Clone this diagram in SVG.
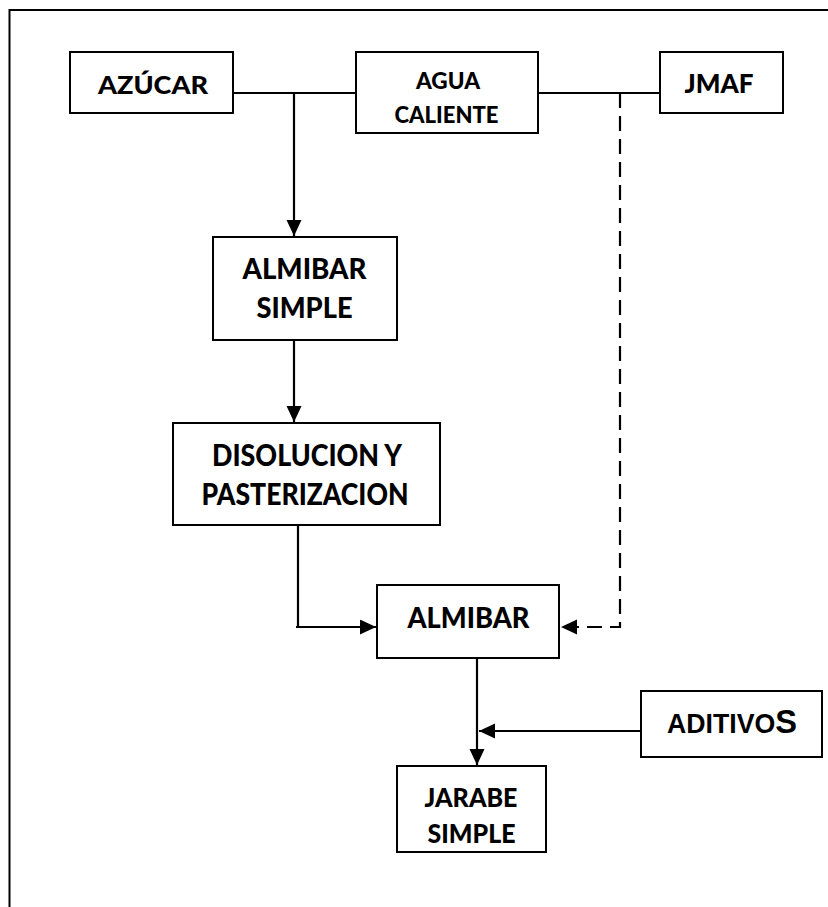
<svg xmlns="http://www.w3.org/2000/svg" width="828" height="907" viewBox="0 0 828 907">
  <style>
    .box { fill: #ffffff; stroke: #000000; stroke-width: 2; }
    .lbl { font-family: Lato, "Open Sans", "Liberation Sans", sans-serif; font-weight: 900; fill: #000000; text-anchor: middle; }
    .lbl-arial { font-family: "Liberation Sans", Arial, sans-serif; font-weight: 700; fill: #000000; }
    .wire { fill: none; stroke: #000000; stroke-width: 2.2; }
    .dash { stroke-dasharray: 15 8; }
  </style>
  <defs>
    <marker id="arrow" markerUnits="userSpaceOnUse" markerWidth="17" markerHeight="16" refX="16" refY="7.5" orient="auto">
      <path d="M0,0 L16,7.5 L0,15 z" fill="#000000"/>
    </marker>
  </defs>

  <rect width="828" height="907" fill="#ffffff"/>

  <!-- frame -->
  <path d="M9.5,907 V10 H828" fill="none" stroke="#000000" stroke-width="2"/>

  <!-- connectors -->
  <g id="connectors">
    <path class="wire" d="M233,93 H356"/>
    <path class="wire" d="M538,93 H660"/>
    <path class="wire" d="M294,93 V236" marker-end="url(#arrow)"/>
    <path class="wire" d="M294,340 V422" marker-end="url(#arrow)"/>
    <path class="wire" d="M298,525 V627 M296,627 H376" marker-end="url(#arrow)"/>
    <path class="wire dash" d="M620,93 V627 H561" marker-end="url(#arrow)"/>
    <path class="wire" d="M477,658 V765" marker-end="url(#arrow)"/>
    <path class="wire" d="M641,731 H479" marker-end="url(#arrow)"/>
  </g>

  <!-- nodes -->
  <g id="azucar">
    <rect class="box" x="70" y="52" width="163" height="61"/>
    <text class="lbl" x="153" y="93.5" font-size="25" textLength="110" lengthAdjust="spacingAndGlyphs">AZÚCAR</text>
  </g>

  <g id="agua-caliente">
    <rect class="box" x="356" y="52" width="182" height="81"/>
    <text class="lbl" x="448" y="88.5" font-size="22" textLength="64" lengthAdjust="spacingAndGlyphs">AGUA</text>
    <text class="lbl" x="446.5" y="122.5" font-size="22" textLength="104" lengthAdjust="spacingAndGlyphs">CALIENTE</text>
  </g>

  <g id="jmaf">
    <rect class="box" x="660" y="52" width="123" height="61"/>
    <text class="lbl" x="719" y="92.5" font-size="27" textLength="69" lengthAdjust="spacingAndGlyphs">JMAF</text>
  </g>

  <g id="almibar-simple">
    <rect class="box" x="213" y="237" width="184" height="103"/>
    <text class="lbl" x="304.5" y="278.5" font-size="29" textLength="124" lengthAdjust="spacingAndGlyphs">ALMIBAR</text>
    <text class="lbl" x="304.5" y="317.5" font-size="29" textLength="96" lengthAdjust="spacingAndGlyphs">SIMPLE</text>
  </g>

  <g id="disolucion">
    <rect class="box" x="173" y="423" width="267" height="102"/>
    <text class="lbl" x="307" y="466" font-size="30" textLength="190" lengthAdjust="spacingAndGlyphs">DISOLUCION Y</text>
    <text class="lbl" x="305" y="504.5" font-size="30" textLength="207" lengthAdjust="spacingAndGlyphs">PASTERIZACION</text>
  </g>

  <g id="almibar">
    <rect class="box" x="377" y="585" width="182" height="73"/>
    <text class="lbl" x="468.5" y="627.5" font-size="29" textLength="122" lengthAdjust="spacingAndGlyphs">ALMIBAR</text>
  </g>

  <g id="aditivos">
    <rect class="box" x="641" y="691" width="181" height="66"/>
    <text class="lbl-arial" x="667" y="732.5" font-size="27" textLength="130" lengthAdjust="spacingAndGlyphs">ADITIVO<tspan font-size="33">S</tspan></text>
  </g>

  <g id="jarabe-simple">
    <rect class="box" x="397" y="766" width="149" height="86"/>
    <text class="lbl" x="471" y="806.5" font-size="27" textLength="93" lengthAdjust="spacingAndGlyphs">JARABE</text>
    <text class="lbl" x="471.5" y="842.5" font-size="27" textLength="88" lengthAdjust="spacingAndGlyphs">SIMPLE</text>
  </g>
</svg>
